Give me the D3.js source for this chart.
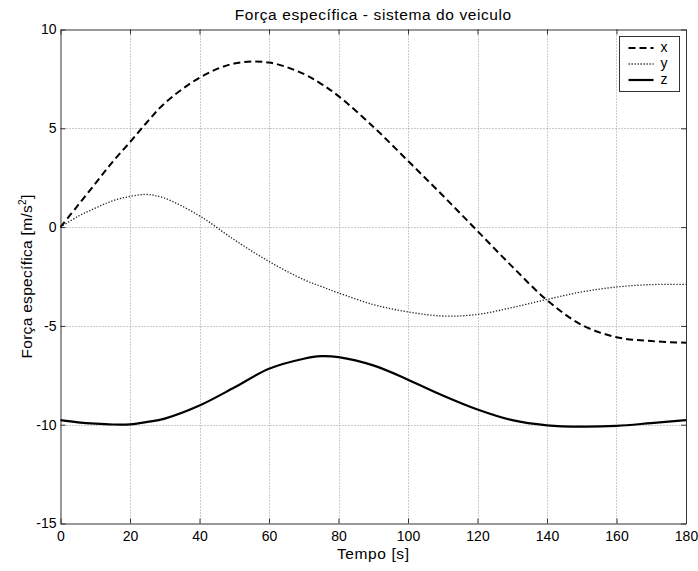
<!DOCTYPE html>
<html>
<head>
<meta charset="utf-8">
<script src="https://cdn.jsdelivr.net/npm/d3@7"></script>
<style>
  html, body { margin: 0; padding: 0; background: #fff; }
  svg { display: block; font-family: "Liberation Sans", Arial, sans-serif; }
</style>
</head>
<body>
<svg id="chart" width="698" height="571"></svg>
<script>
// tempo [s] e as três componentes
const time = [0, 5, 10, 15, 20, 25, 30, 40, 50, 60, 70, 75, 80, 90, 100, 110, 120, 130, 140, 150, 160, 170, 180];
const fx = [0, 1.1, 2.2, 3.3, 4.3, 5.33, 6.27, 7.56, 8.28, 8.33, 7.75, 7.25, 6.63, 5.08, 3.35, 1.6, -0.2, -2.0, -3.7, -4.95, -5.57, -5.77, -5.85];
const fy = [0, 0.54, 0.96, 1.33, 1.55, 1.65, 1.46, 0.57, -0.64, -1.74, -2.66, -3.0, -3.33, -3.92, -4.29, -4.5, -4.42, -4.07, -3.66, -3.28, -3.03, -2.91, -2.9];
const fz = [-9.77, -9.88, -9.95, -9.99, -9.98, -9.86, -9.69, -9.03, -8.12, -7.17, -6.66, -6.53, -6.58, -7.0, -7.72, -8.52, -9.23, -9.77, -10.03, -10.1, -10.06, -9.92, -9.77];
const seriesNames = ['x', 'y', 'z'];
const xTicks = [0, 20, 40, 60, 80, 100, 120, 140, 160, 180];
const yTicks = [-15, -10, -5, 0, 5, 10];

const pLeft = 60.5, pRight = 686, pTop = 29.5, pBottom = 523.5;

const svg = d3.select('#chart');

const x = d3.scaleLinear().domain([0, 180]).range([pLeft, pRight]);
const y = d3.scaleLinear().domain([-15, 10]).range([pBottom, pTop]);

// grade pontilhada
const grid = svg.append('g').attr('stroke', '#999').attr('stroke-width', 1).attr('stroke-dasharray', '1,2');
xTicks.slice(1, -1).forEach(t => {
  grid.append('line').attr('x1', Math.round(x(t)) + 0.5).attr('x2', Math.round(x(t)) + 0.5).attr('y1', pTop).attr('y2', pBottom);
});
yTicks.slice(1, -1).forEach(t => {
  grid.append('line').attr('x1', pLeft).attr('x2', pRight).attr('y1', Math.round(y(t)) + 0.5).attr('y2', Math.round(y(t)) + 0.5);
});

// eixos (ticks para dentro, nos quatro lados)
const axisColor = '#333';
const fmt = d => String(d);
const gB = svg.append('g').attr('transform', `translate(0,${pBottom})`)
  .call(d3.axisBottom(x).tickValues(xTicks).tickSizeInner(-5).tickSizeOuter(0).tickPadding(8).tickFormat(fmt));
const gT = svg.append('g').attr('transform', `translate(0,${pTop})`)
  .call(d3.axisTop(x).tickValues(xTicks).tickSizeInner(-5).tickSizeOuter(0).tickFormat(''));
const gL = svg.append('g').attr('transform', `translate(${pLeft},0)`)
  .call(d3.axisLeft(y).tickValues(yTicks).tickSizeInner(-5).tickSizeOuter(0).tickPadding(4).tickFormat(fmt));
const gR = svg.append('g').attr('transform', `translate(${pRight},0)`)
  .call(d3.axisRight(y).tickValues(yTicks).tickSizeInner(-5).tickSizeOuter(0).tickFormat(''));

[gB, gT, gL, gR].forEach(g => {
  g.select('.domain').attr('stroke', axisColor);
  g.selectAll('.tick line').attr('stroke', axisColor);
  g.selectAll('.tick text').attr('fill', '#000').attr('font-size', 14)
    .attr('font-family', '"Liberation Sans", Arial, sans-serif');
});
gB.selectAll('.tick text').attr('dy', '0.71em');

// curvas
const line = d3.line()
  .x((d, i) => x(time[i]))
  .y(d => y(d))
  .curve(d3.curveCatmullRom.alpha(0.5));

const styles = {
  x: { width: 2, dash: '7,4', color: '#000' },
  y: { width: 1.3, dash: '1.3,1.7', color: '#222' },
  z: { width: 2.2, dash: null, color: '#000' }
};

[fx, fy, fz].forEach((vals, k) => {
  const s = styles[seriesNames[k]];
  svg.append('path')
    .datum(vals)
    .attr('d', line)
    .attr('fill', 'none')
    .attr('stroke', s.color)
    .attr('stroke-width', s.width)
    .attr('stroke-dasharray', s.dash);
});

// legenda
const lg = svg.append('g').attr('transform', 'translate(619.5,36.5)');
lg.append('rect').attr('width', 60).attr('height', 55)
  .attr('fill', '#fff').attr('stroke', axisColor);
seriesNames.forEach((n, i) => {
  const s = styles[n];
  const yy = 11.5 + i * 16;
  lg.append('line').attr('x1', 9).attr('x2', 34).attr('y1', yy).attr('y2', yy)
    .attr('stroke', s.color).attr('stroke-width', s.width).attr('stroke-dasharray', s.dash);
  lg.append('text').attr('x', 41).attr('y', yy).attr('dy', '0.32em')
    .attr('font-size', 14).text(n);
});

// títulos
svg.append('text')
  .attr('x', (pLeft + pRight) / 2).attr('y', 19.5)
  .attr('text-anchor', 'middle').attr('font-size', 15.5).attr('letter-spacing', 0.6)
  .text('Força específica - sistema do veiculo');

svg.append('text')
  .attr('x', (pLeft + pRight) / 2).attr('y', 559)
  .attr('text-anchor', 'middle').attr('font-size', 15.5).attr('letter-spacing', 0.6)
  .text('Tempo [s]');

const yl = svg.append('text')
  .attr('transform', `translate(32,${(pTop + pBottom) / 2}) rotate(-90)`)
  .attr('text-anchor', 'middle').attr('font-size', 15.5).attr('letter-spacing', 0.3);
yl.append('tspan').text('Força específica [m/s');
yl.append('tspan').attr('font-size', 10).attr('dy', -6).text('2');
yl.append('tspan').attr('dy', 6).text(']');
</script>
</body>
</html>
